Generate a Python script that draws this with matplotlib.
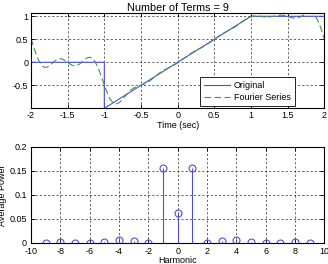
import numpy as np
import matplotlib
matplotlib.use("Agg")
import matplotlib.pyplot as plt

plt.rcParams['font.family'] = ['Liberation Sans', 'DejaVu Sans']
plt.rcParams['font.size'] = 6.5

# Original signal breakpoints (one period)
orig_t = [-2, -1, -1, 1, 2]
orig_x = [0, 0, -1, 1, 1]

# Fourier coefficients c_n (n = 0..9), real and imaginary parts
n_pos = [0, 1, 2, 3, 4, 5, 6, 7, 8, 9]
c_re = [0.25, -0.15915, 0.0, 0.05305, 0.0, -0.03183, 0.0, 0.02274, 0.0, -0.017684]
c_im = [0.0, -0.36180, 0.0, -0.03054, 0.07958, -0.03994, 0.0, -0.018601, 0.03979, -0.020186]
period = 4.0

# Average power per harmonic (n = -9..9)
harmonics = list(range(-9, 10))
power = [0.00072, 0.00158, 0.00086, 0.0, 0.00261, 0.00633, 0.00375, 0.0, 0.1562, 0.0625,
         0.1562, 0.0, 0.00375, 0.00633, 0.00261, 0.0, 0.00086, 0.00158, 0.00072]

t = np.linspace(-2, 2, 801)
w0 = 2 * np.pi / period
fs = np.full_like(t, c_re[0])
for n, a, b in zip(n_pos[1:], c_re[1:], c_im[1:]):
    fs += 2 * (a * np.cos(n * w0 * t) - b * np.sin(n * w0 * t))

fig = plt.figure(figsize=(3.28, 2.64), dpi=100)
W, H = 328, 264
ax1 = fig.add_axes([31 / W, 1 - 108.3 / H, 293.3 / W, 95 / H])
ax2 = fig.add_axes([31 / W, 1 - 243 / H, 293.3 / W, 96 / H])

blue = '#4f4fd6'
green = '#3f963f'
grid_kw = dict(color='#222222', linestyle=(0, (3, 3)), linewidth=0.5)

ax1.plot(orig_t, orig_x, color=blue, lw=0.8, label='Original')
ax1.plot(t, fs, color=green, lw=0.8, ls=(0, (6, 3)), label='Fourier Series')
ax1.set_xlim(-2, 2)
ax1.set_ylim(-1, 1.065)
ax1.set_xticks([-2, -1.5, -1, -0.5, 0, 0.5, 1, 1.5, 2])
ax1.set_xticklabels(['-2', '-1.5', '-1', '-0.5', '0', '0.5', '1', '1.5', '2'])
ax1.set_yticks([-0.5, 0, 0.5, 1])
ax1.set_yticklabels(['-0.5', '0', '0.5', '1'])
ax1.grid(True, **grid_kw)
ax1.set_title('Number of Terms = 9', pad=2)
ax1.set_xlabel('Time (sec)', labelpad=1)
leg = ax1.legend(loc='lower right', bbox_to_anchor=(0.900, 0.024), borderaxespad=0,
                 fancybox=False, edgecolor='black', framealpha=1,
                 handlelength=2.9, handletextpad=0.45, labelspacing=0.35,
                 borderpad=0.45)
leg.get_frame().set_linewidth(0.6)

ml, sl, bl = ax2.stem(harmonics, power, basefmt=' ')
plt.setp(sl, color=blue, lw=0.8)
plt.setp(ml, markerfacecolor='none', markeredgecolor=blue, markersize=5, markeredgewidth=0.8)
ax2.set_xlim(-10, 10)
ax2.set_ylim(0, 0.2)
ax2.set_xticks(range(-10, 11, 2))
ax2.set_xticklabels([str(v) for v in range(-10, 11, 2)])
ax2.set_yticks([0, 0.05, 0.1, 0.15, 0.2])
ax2.set_yticklabels(['0', '0.05', '0.1', '0.15', '0.2'])
ax2.grid(True, **grid_kw)
ax2.set_xlabel('Harmonic', labelpad=0)
ax2.set_ylabel('Average Power', labelpad=2)

for ax in (ax1, ax2):
    ax.tick_params(direction='in', length=3, width=0.6, pad=2, top=True, right=True)
    for s in ax.spines.values():
        s.set_linewidth(0.8)
    ax.set_axisbelow(True)
ax2.tick_params(axis='x', pad=3)
ax2.tick_params(axis='y', pad=3)

fig.savefig('out.png', dpi=100)
